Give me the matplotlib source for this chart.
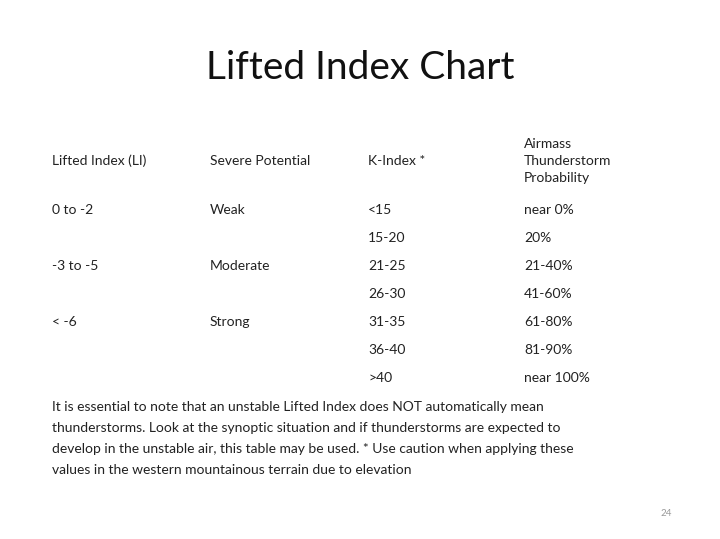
import matplotlib
matplotlib.use('Agg')
from matplotlib import pyplot as plt

W, H = 720, 539
plt.rcParams['font.family'] = ['Lato', 'DejaVu Sans']

title = 'Lifted Index Chart'
headers = ['Lifted Index (LI)', 'Severe Potential', 'K-Index *',
           'Airmass\nThunderstorm\nProbability']
lifted = ['0 to -2', '', '-3 to -5', '', '< -6', '', '']
severe = ['Weak', '', 'Moderate', '', 'Strong', '', '']
kindex = ['<15', '15-20', '21-25', '26-30', '31-35', '36-40', '>40']
prob = ['near 0%', '20%', '21-40%', '41-60%', '61-80%', '81-90%', 'near 100%']
note = ['It is essential to note that an unstable Lifted Index does NOT automatically mean',
        'thunderstorms. Look at the synoptic situation and if thunderstorms are expected to',
        'develop in the unstable air, this table may be used. * Use caution when applying these',
        'values in the western mountainous terrain due to elevation']

fig = plt.figure(figsize=(W / 100, H / 100), dpi=100)
fig.patch.set_facecolor('white')


def put(x, y, s, **kw):
    fig.text(x / W, 1 - y / H, s, **kw)


put(360, 68, title, fontsize=28, ha='center', va='center', color='#111111')

col_x = [52, 210, 368, 524]
for x, h in zip(col_x, headers):
    put(x, 161, h, fontsize=10, va='center', color='#222222', linespacing=1.55)

row_y = [210, 238, 266, 294, 322, 350, 378]
for y, a, b, c, d in zip(row_y, lifted, severe, kindex, prob):
    for x, s in zip(col_x, [a, b, c, d]):
        put(x, y, s, fontsize=10, va='center', color='#222222')

for i, line in enumerate(note):
    put(52, 407 + i * 21, line, fontsize=10, va='center', color='#222222')

put(672, 514, '24', fontsize=7, ha='right', va='center', color='#999999')

fig.savefig('out.png', dpi=100)
